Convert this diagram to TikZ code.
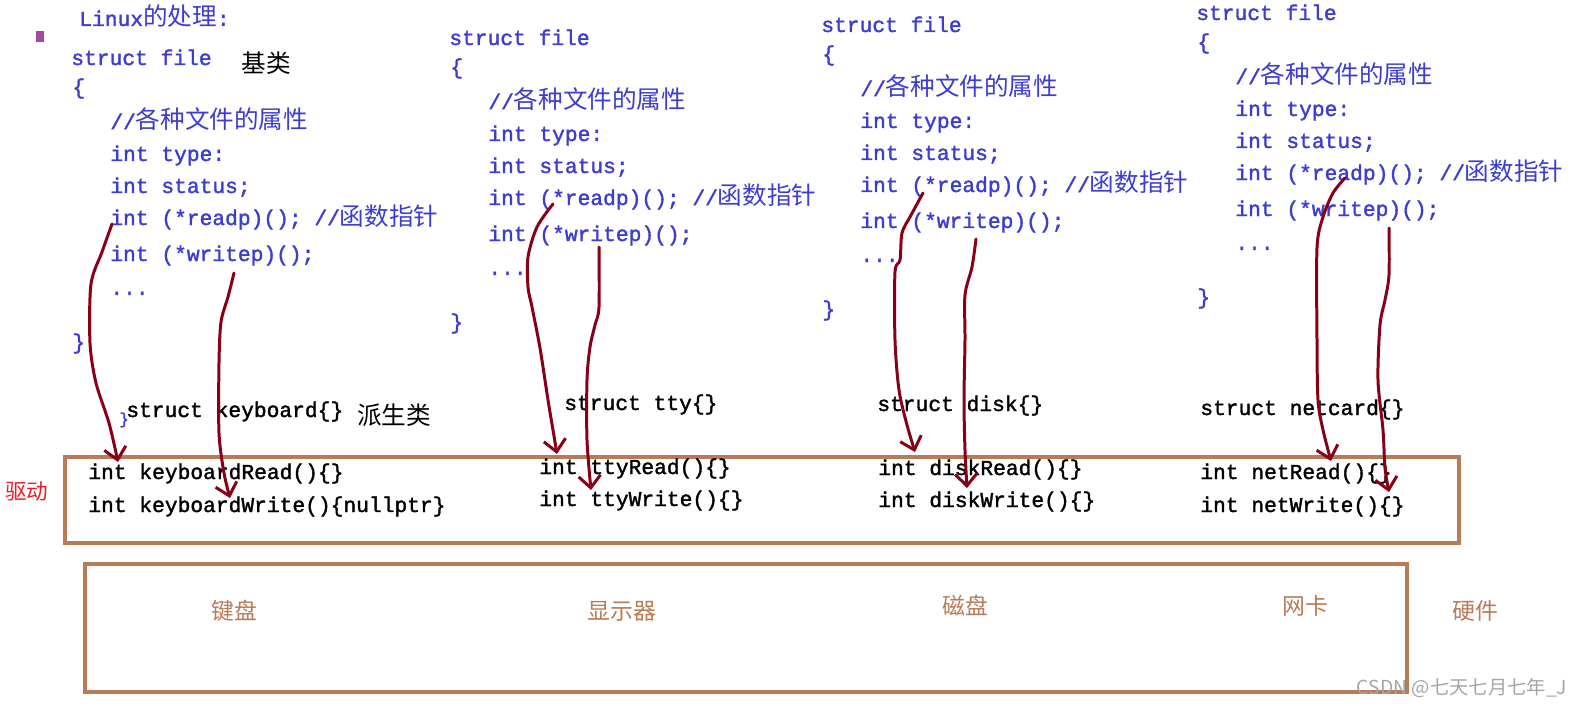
\documentclass[tikz,border=0pt]{standalone}
\usepackage{fontspec}
\usepackage{tikz}
\usetikzlibrary{positioning, arrows.meta, calc}
\newfontfamily\codefont[FakeBold=1.6]{Liberation Mono}
\newfontfamily\cjkfont{Noto Sans CJK SC}
\definecolor{codeblue}{RGB}{60,60,210}
\definecolor{paintbrown}{RGB}{185,122,87}
\definecolor{pendarkred}{RGB}{136,0,21}
\definecolor{markpurple}{RGB}{163,73,164}
\definecolor{drvred}{RGB}{237,28,36}
\newcommand{\zh}[1]{{\cjkfont\fontsize{14}{16}\selectfont #1}}

\begin{document}
\begin{tikzpicture}[x=0.02cm,y=-0.02cm,
  code/.style={anchor=base west, inner sep=0pt, text=codeblue,
               font=\codefont\fontsize{12.1}{14}\selectfont},
  impl/.style={code, text=black},
  tag/.style={inner sep=0pt, font=\cjkfont\fontsize{14}{16}\selectfont},
  hw/.style={inner sep=0pt, text=paintbrown, font=\cjkfont\fontsize{13}{15}\selectfont},
  layer/.style={draw=paintbrown, line width=2.8pt},
  ptr/.style={draw=pendarkred, line width=1.7pt, line cap=round, line join=round,
              -{Straight Barb[length=2.4mm,width=4.4mm]}}]
  \useasboundingbox (0,0) rectangle (1580,706);

  %% Heading
  \node[code] (title) at (79,26) {Linux\zh{的处理}:};
  \fill[markpurple] (36,31) rectangle (44,42);

  %% struct file (base class), four copies
  \foreach \i/\x/\y in {1/71/65, 2/449/45, 3/821/32, 4/1196/20} {
    \node[code] (f\i)  at (\x,\y)        {struct file};
    \node[code] (ob\i) at (\x+1,\y+29)   {\{};
    \node[code] (cm\i) at (\x+39,\y+64)  {//\zh{各种文件的属性}};
    \node[code] (ty\i) at (\x+39,\y+96)  {int type:};
    \node[code] (st\i) at (\x+39,\y+128) {int status;};
    \node[code] (rp\i) at (\x+39,\y+160) {int (*readp)(); //\zh{函数指针}};
    \node[code] (wp\i) at (\x+39,\y+196) {int (*writep)();};
    \node[code] (dt\i) at (\x+39,\y+230) {...};
    \node[code] (cb\i) at (\x+1,\y+284)  {\}};
  }
  \node[tag] (base) at (266,63) {基类};

  %% Derived structs
  \node[impl] (kb) at (126,417)  {struct keyboard\{\}};
  \node[code, font=\codefont\fontsize{9}{10}\selectfont] (stray) at (119,424) {\}};
  \node[impl] (tty) at (564,410)  {struct tty\{\}};
  \node[impl] (dsk) at (877,411)  {struct disk\{\}};
  \node[impl] (net) at (1200,415) {struct netcard\{\}};
  \node[tag] (derived) at (394,415) {派生类};

  %% Driver layer
  \draw[layer] (65,457) rectangle (1459,543);
  \node[tag, text=drvred, font=\cjkfont\fontsize{12.3}{14}\selectfont] (drv) at (27,491) {驱动};
  \node[impl] (kR) at (88,479)   {int keyboardRead()\{\}};
  \node[impl] (kW) at (88,512)   {int keyboardWrite()\{nullptr\}};
  \node[impl] (tR) at (539,474)  {int ttyRead()\{\}};
  \node[impl] (tW) at (539,506)  {int ttyWrite()\{\}};
  \node[impl] (dR) at (878,475)  {int diskRead()\{\}};
  \node[impl] (dW) at (878,507)  {int diskWrite()\{\}};
  \node[impl] (nR) at (1200,479) {int netRead()\{\}};
  \node[impl] (nW) at (1200,512) {int netWrite()\{\}};

  %% Hardware layer
  \draw[layer] (85,564) rectangle (1407,692);
  \node[hw] (kbd) at (234,611)  {键盘};
  \node[hw] (scr) at (622,611)  {显示器};
  \node[hw] (hdd) at (965,606)  {磁盘};
  \node[hw] (nic) at (1305,606) {网卡};
  \node[hw] (hwl) at (1475,611) {硬件};

  %% Function pointers -> driver functions
  \draw[ptr] plot[smooth] coordinates {($(rp1.base west)+(2,-1)$) (102,252) (91,284)
    (90,343) (96,383) (109,423) ($(kR.base west)+(30,-17)$)};
  \draw[ptr] plot[smooth] coordinates {($(wp1.base west)+(124,12)$) (228,297) (221,322)
    (219,363) (219,433) (224,473) ($(kW.base west)+(142,-14)$)};
  \draw[ptr] plot[smooth] coordinates {($(rp2.base west)+(65,-1)$) (537,227) (528,257)
    (528,287) (532,307) (540,348) (548,400) (553,430) ($(tR.base west)+(18,-20)$)};
  \draw[ptr] plot[smooth] coordinates {($(wp2.base west)+(111,6)$) (599,307) (595,325)
    (590,347) (587,380) (587,440) ($(tW.base west)+(52,-16)$)};
  \draw[ptr] plot[smooth] coordinates {($(rp3.base west)+(63,1)$) (910,217) (902,233)
    (900,260) (895,272) (895,340) (899,390) (907,425) ($(dR.base west)+(37,-23)$)};
  \draw[ptr] plot[smooth] coordinates {($(wp3.base west)+(116,11)$) (972,267) (965,295)
    (965,340) (964,400) (965,450) ($(dW.base west)+(89,-19)$)};
  \draw[ptr] plot[smooth] coordinates {($(rp4.base west)+(110,-2)$) (1333,193) (1323,217)
    (1317,248) (1317,340) (1318,400) (1323,430) ($(nR.base west)+(131,-18)$)};
  \draw[ptr] plot[smooth] coordinates {($(wp4.base west)+(154,12)$) (1389,275) (1385,300)
    (1380,325) (1378,380) (1383,430) (1385,468) ($(nW.base west)+(189,-20)$)};

  %% Watermark
  \node[inner sep=0pt, text=gray!70, font=\cjkfont\fontsize{11}{12}\selectfont]
    (wm) at (1462,688) {CSDN @七天七月七年\_J};
\end{tikzpicture}
\end{document}
